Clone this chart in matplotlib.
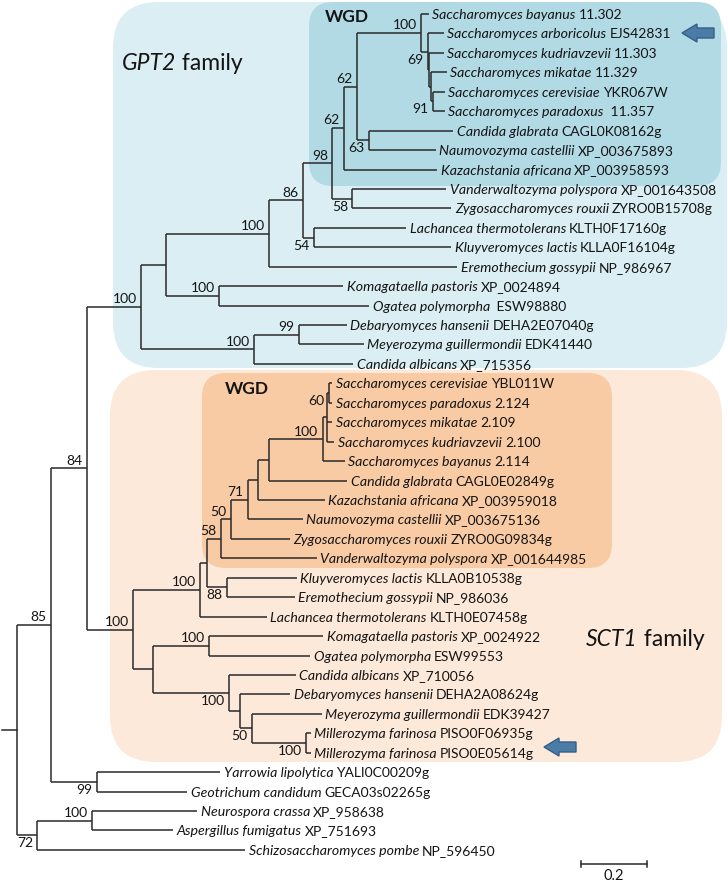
import matplotlib
matplotlib.use("Agg")
import matplotlib.pyplot as plt
from matplotlib.patches import FancyBboxPatch, Polygon
from matplotlib.transforms import Affine2D

# ---------------- data ----------------
species = [
    "Saccharomyces bayanus", "Saccharomyces arboricolus", "Saccharomyces kudriavzevii",
    "Saccharomyces mikatae", "Saccharomyces cerevisiae", "Saccharomyces paradoxus",
    "Candida glabrata", "Naumovozyma castellii", "Kazachstania africana",
    "Vanderwaltozyma polyspora", "Zygosaccharomyces rouxii", "Lachancea thermotolerans",
    "Kluyveromyces lactis", "Eremothecium gossypii", "Komagataella pastoris",
    "Ogatea polymorpha", "Debaryomyces hansenii", "Meyerozyma guillermondii",
    "Candida albicans",
    "Saccharomyces cerevisiae", "Saccharomyces paradoxus", "Saccharomyces mikatae",
    "Saccharomyces kudriavzevii", "Saccharomyces bayanus", "Candida glabrata",
    "Kazachstania africana", "Naumovozyma castellii", "Zygosaccharomyces rouxii",
    "Vanderwaltozyma polyspora", "Kluyveromyces lactis", "Eremothecium gossypii",
    "Lachancea thermotolerans", "Komagataella pastoris", "Ogatea polymorpha",
    "Candida albicans", "Debaryomyces hansenii", "Meyerozyma guillermondii",
    "Millerozyma farinosa", "Millerozyma farinosa",
    "Yarrowia lipolytica", "Geotrichum candidum", "Neurospora crassa",
    "Aspergillus fumigatus", "Schizosaccharomyces pombe",
]
accessions = [
    "11.302", "EJS42831", "11.303", "11.329", "YKR067W", " 11.357",
    "CAGL0K08162g", "XP_003675893", "XP_003958593", "XP_001643508", "ZYRO0B15708g",
    "KLTH0F17160g", "KLLA0F16104g", "NP_986967", "XP_0024894", " ESW98880",
    "DEHA2E07040g", "EDK41440", "XP_715356",
    "YBL011W", "2.124", "2.109", "2.100", "2.114", "CAGL0E02849g", "XP_003959018",
    "XP_003675136", "ZYRO0G09834g", "XP_001644985", "KLLA0B10538g", "NP_986036",
    "KLTH0E07458g", "XP_0024922", "ESW99553", "XP_710056", "DEHA2A08624g",
    "EDK39427", "PISO0F06935g", "PISO0E05614g",
    "YALI0C00209g", "GECA03s02265g", "XP_958638", "XP_751693", "NP_596450",
]

# Newick subtrees: leaves are row indices, internal labels are bootstrap values,
# branch lengths in substitutions per site
gpt2_family = ("((((((((0:0.024,(1:0.048,(2:0.045,(3:0.048,(4:0.036,5:0.036)91:0.006)"
               ":0.006):0.003)69:0.021)100:0.194,(6:0.255,7:0.203)63:0.036)62:0.039,"
               "8:0.282)62:0.036,(9:0.285,10:0.300)58:0.061)98:0.088,(11:0.279,12:0.415)"
               "54:0.033)86:0.103,13:0.570)100:0.312,(14:0.376,15:0.455)100:0.161):0.076,"
               "((16:0.145,17:0.197)99:0.136,18:0.300)100:0.342)100:0.164")
sct1_family = ("(((((((((((19:0.012,20:0.012)60:0.006,21:0.018,22:0.024):0.012,23:0.067)"
               "100:0.161,24:0.236):0.036,25:0.203):0.030,26:0.167)71:0.052,27:0.179)"
               "50:0.030,28:0.291)58:0.042,(29:0.212,30:0.206)88:0.061):0.021,31:0.203)"
               "100:0.203,((32:0.345,33:0.306)100:0.170,(34:0.203,(35:0.152,(36:0.212,"
               "(37:0.015,38:0.015)100:0.164)50:0.036):0.033)100:0.230):0.061)100:0.139")
dimorphic_clade = "(39:0.373,40:0.273)99:0.139"
pezizo_clade = "((41:0.318,42:0.245)100:0.167,43:0.630)72:0.061"
backbone_lengths = {"84": 0.109, "85": 0.103}

tree_newick = ("(((" + gpt2_family + "," + sct1_family + ")84:%.3f," % backbone_lengths["84"]
               + dimorphic_clade + ")85:%.3f," % backbone_lengths["85"] + pezizo_clade + ")")

# nodes whose bootstrap label sits below the branch (identified by first/last row)
below_labels = {(1, 5), (4, 5), (6, 7), (9, 10), (11, 12), (19, 20), (29, 30),
                (34, 38), (36, 38), (37, 38), (39, 40), (41, 43)}
scale_bar = 0.2

# ---------------- parse ----------------
def parse(s):
    pos = 0
    def node():
        nonlocal pos
        n = {"children": [], "label": "", "bl": 0.0}
        if s[pos] == "(":
            pos += 1
            n["children"].append(node())
            while s[pos] == ",":
                pos += 1
                n["children"].append(node())
            pos += 1
        st = pos
        while pos < len(s) and s[pos] not in ":,);":
            pos += 1
        n["label"] = s[st:pos]
        if pos < len(s) and s[pos] == ":":
            pos += 1
            st = pos
            while pos < len(s) and s[pos] not in ",);":
                pos += 1
            n["bl"] = float(s[st:pos])
        return n
    return node()

root = parse(tree_newick)

def layout(n, x0):
    n["x"] = x0 + n["bl"]
    if n["children"]:
        for c in n["children"]:
            layout(c, n["x"])
        n["y"] = (n["children"][0]["y"] + n["children"][-1]["y"]) / 2
        n["lo"] = n["children"][0]["lo"]
        n["hi"] = n["children"][-1]["hi"]
    else:
        n["y"] = int(n["label"])
        n["lo"] = n["hi"] = n["y"]

layout(root, 0.0)

# ---------------- figure ----------------
W, H, DPI = 728, 884, 100
PXU = 330.0          # pixels per substitution unit
X0, Y0, DY = 17.0, 14.0, 19.44
FONT = "Lato"
TC = "#141414"
plt.rcParams["font.family"] = [FONT, "DejaVu Sans"]

fig = plt.figure(figsize=(W / DPI, H / DPI), dpi=DPI)
ax = fig.add_axes([0, 0, 1, 1])
ax.set_xlim(-X0 / PXU, (W - X0) / PXU)
ax.set_ylim((H - Y0) / DY, -Y0 / DY)
ax.axis("off")

px = Affine2D().scale(1 / DPI, -1 / DPI).translate(0, H / DPI) + fig.dpi_scale_trans

def rbox(x0, y0, x1, y1, r, color):
    p = FancyBboxPatch((x0, y0), x1 - x0, y1 - y0,
                       boxstyle="round,pad=0,rounding_size=%g" % r,
                       transform=px, facecolor=color, edgecolor="none", zorder=0)
    fig.add_artist(p)

rbox(113, 2, 727, 368, 46, "#DAEEF3")
rbox(309, 2, 721, 186, 24, "#B2DAE5")
rbox(110, 370, 722, 762, 46, "#FDE9DA")
rbox(202, 373, 612, 568, 24, "#F9CBA4")

LC = "#2a2a2a"
LW = 1.1

def draw(n):
    if n["children"]:
        ax.plot([n["x"], n["x"]], [n["children"][0]["y"], n["children"][-1]["y"]],
                color=LC, lw=LW, solid_capstyle="butt", zorder=3)
        for c in n["children"]:
            ax.plot([n["x"], c["x"]], [c["y"], c["y"]], color=LC, lw=LW,
                    solid_capstyle="butt", zorder=3)
            draw(c)
        if n["label"]:
            below = (n["lo"], n["hi"]) in below_labels
            ax.annotate(n["label"], (n["x"], n["y"]),
                        xytext=(-3.0, -1.4 if below else 1.2), textcoords="offset points",
                        ha="right", va="top" if below else "bottom",
                        fontsize=10, color=TC, zorder=4)

draw(root)
ax.plot([-0.045, 0], [root["y"], root["y"]], color=LC, lw=LW, zorder=3)

# leaf labels
renderer = fig.canvas.get_renderer()
leaves = []
def collect(n):
    if n["children"]:
        for c in n["children"]:
            collect(c)
    else:
        leaves.append(n)
collect(root)
for lf in leaves:
    i = lf["y"]
    t = ax.annotate(species[i], (lf["x"], lf["y"]), xytext=(2.6, 0),
                    textcoords="offset points", ha="left", va="center_baseline",
                    style="italic", fontsize=10.2, color=TC, zorder=4)
    bb = t.get_window_extent(renderer)
    yd = ax.transData.transform((lf["x"], lf["y"]))[1]
    ax.annotate(accessions[i], (bb.x1 + 3, yd), xycoords="figure pixels",
                ha="left", va="center_baseline", fontsize=10, color=TC, zorder=4)

# family titles
def mixed(x, y, parts, size, weight="normal"):
    xd = x
    for txt, st in parts:
        t = fig.text(xd / W, 1 - y / H, txt, style=st, fontsize=size, weight=weight,
                     ha="left", va="center_baseline", color=TC, zorder=5)
        bb = t.get_window_extent(renderer)
        xd = bb.x1
mixed(122, 62, [("GPT2", "italic"), (" family", "normal")], 16.5)
mixed(586, 638, [("SCT1", "italic"), (" family", "normal")], 16.5)
fig.text(325 / W, 1 - 16 / H, "WGD", fontsize=12.5, weight="bold", ha="left",
         va="center_baseline", color=TC)
fig.text(225 / W, 1 - 387 / H, "WGD", fontsize=12.5, weight="bold", ha="left",
         va="center_baseline", color=TC)

# arrows
def arrow(xtip, yc):
    pts = [(xtip, yc), (xtip + 15, yc - 9), (xtip + 15, yc - 5), (xtip + 32, yc - 5),
           (xtip + 32, yc + 5), (xtip + 15, yc + 5), (xtip + 15, yc + 9)]
    fig.add_artist(Polygon(pts, closed=True, transform=px, facecolor="#4a7ca6",
                           edgecolor="#355f88", lw=1.0, zorder=6))
arrow(682, 33)
arrow(544, 747)

# scale bar
sx = (581 - X0) / PXU
sy = (864 - Y0) / DY
ax.plot([sx, sx + scale_bar], [sy, sy], color=LC, lw=LW)
for xx in (sx, sx + scale_bar):
    ax.plot([xx, xx], [sy - 0.17, sy + 0.17], color=LC, lw=LW)
ax.annotate("%.1f" % scale_bar, (sx + scale_bar / 2, sy), xytext=(0, -3.5),
            textcoords="offset points", ha="center", va="top", fontsize=10.5, color=TC)

fig.savefig("out.png", dpi=DPI)
